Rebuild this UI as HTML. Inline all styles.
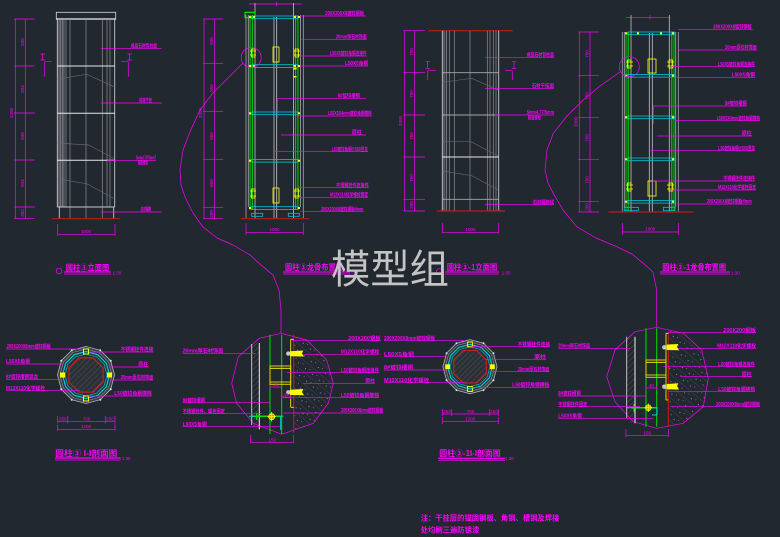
<!DOCTYPE html>
<html><head><meta charset="utf-8"><style>
html,body{margin:0;padding:0;background:#212830;}
svg{display:block}
.m{stroke:#ff00ff;stroke-width:.7;fill:none}
.t{fill:#ff00ff;font-family:"Liberation Sans","Noto Sans CJK SC",sans-serif;font-size:5px;font-weight:bold}
.d{fill:#ff00ff;font-family:"Liberation Sans",sans-serif;font-size:4.5px}
.tt{fill:#ff00ff;font-family:"Liberation Sans","Noto Sans CJK SC",sans-serif;font-size:8px;font-weight:bold}
.g{stroke:#8e9092;stroke-width:.7;fill:none}
.g2{stroke:#62666a;stroke-width:.7;fill:none}
.w{stroke:#e8e8e8;stroke-width:1;fill:none}
.c{stroke:#00c8d8;stroke-width:.8;fill:none}
.gr{stroke:#00e000;stroke-width:.8;fill:none}
.y{stroke:#ffff00;stroke-width:.8;fill:none}
.r{stroke:#c01818;stroke-width:1.2;fill:none}
</style></head><body>
<svg width="780" height="537" viewBox="0 0 780 537" xmlns="http://www.w3.org/2000/svg">
<defs>
<pattern id="hat" width="4" height="4" patternUnits="userSpaceOnUse" patternTransform="rotate(45)"><line x1="0" y1="0" x2="0" y2="4" stroke="#6a6d70" stroke-width=".6"/></pattern>
<pattern id="conc" width="9" height="9" patternUnits="userSpaceOnUse" patternTransform="rotate(-50)"><line x1="0" y1="0" x2="0" y2="9" stroke="#55595d" stroke-width=".6"/><circle cx="4" cy="3" r=".6" fill="#8a8a8a"/><circle cx="6" cy="7" r=".5" fill="#8a8a8a"/></pattern>
<g id="sec">
<polygon points="28.5,0 24.7,14.25 14.25,24.7 0,28.5 -14.25,24.7 -24.7,14.25 -28.5,0 -24.7,-14.25 -14.25,-24.7 0,-28.5 14.25,-24.7 24.7,-14.25" stroke="#b8b8b8" stroke-width=".8" fill="#3a3f45"/>
<polygon points="26,0 22.5,13 13,22.5 0,26 -13,22.5 -22.5,13 -26,0 -22.5,-13 -13,-22.5 0,-26 13,-22.5 22.5,-13" stroke="#9a9a9a" stroke-width=".6" fill="#2c3238"/>
<polygon points="23.5,0 20.35,11.75 11.75,20.35 0,23.5 -11.75,20.35 -20.35,11.75 -23.5,0 -20.35,-11.75 -11.75,-20.35 0,-23.5 11.75,-20.35 20.35,-11.75" stroke="#00d0d8" stroke-width="1.2" fill="none"/>
<polygon points="21,0 18.2,10.5 10.5,18.2 0,21 -10.5,18.2 -18.2,10.5 -21,0 -18.2,-10.5 -10.5,-18.2 0,-21 10.5,-18.2 18.2,-10.5" stroke="#00b0c0" stroke-width=".8" fill="#2a3036"/>
<polygon points="17.1,7.1 7.1,17.1 -7.1,17.1 -17.1,7.1 -17.1,-7.1 -7.1,-17.1 7.1,-17.1 17.1,-7.1" stroke="#e02020" stroke-width="1" fill="url(#hat)"/>
<rect x="-2.5" y="-26" width="5" height="5" fill="none" stroke="#ffff00" stroke-width="1"/>
<rect x="-2.5" y="21" width="5" height="5" fill="none" stroke="#ffff00" stroke-width="1"/>
<rect x="-26" y="-2.5" width="5" height="5" fill="#ffff00"/>
<rect x="21" y="-2.5" width="5" height="5" fill="#ffff00"/>
<g fill="#d0f0f0"><circle cx="24.7" cy="14.25" r="1"/><circle cx="-24.7" cy="14.25" r="1"/><circle cx="24.7" cy="-14.25" r="1"/><circle cx="-24.7" cy="-14.25" r="1"/><circle cx="14.25" cy="24.7" r="1"/><circle cx="-14.25" cy="24.7" r="1"/><circle cx="14.25" cy="-24.7" r="1"/><circle cx="-14.25" cy="-24.7" r="1"/></g>
</g>
<clipPath id="cp1"><polygon points="281,333.3 306.7,340 326.7,360 333.3,383.3 328.3,403.3 313.3,423.3 281.7,434.3 253.3,423.3 236.7,403.3 231.7,383.3 238.3,356.7 259.3,338.3"/></clipPath>
<clipPath id="cp2"><polygon points="656.7,327.3 683.3,333.3 701.7,350 708.3,378.3 703.3,406.7 683.3,423.3 656.7,428.3 633.3,421.7 615,401.7 606.7,376.7 615,350 635,331.7"/></clipPath>
</defs>
<rect width="780" height="537" fill="#212830"/>

<!-- ===== Drawing 1: elevation ===== -->
<g>
<path class="m" d="M15.3 19V218.7M25.3 19V218.7M14 19H34.7M14 66H34.7M14 113H34.7M14 160H34.7M14 207H34.7M14 218.7H34.7"/>
<text class="d" transform="rotate(-90 13 113)" x="13" y="113" text-anchor="middle">3300</text>
<text class="d" transform="rotate(-90 24 42)" x="24" y="42" text-anchor="middle">836</text>
<text class="d" transform="rotate(-90 24 89)" x="24" y="89" text-anchor="middle">834</text>
<text class="d" transform="rotate(-90 24 136)" x="24" y="136" text-anchor="middle">836</text>
<text class="d" transform="rotate(-90 24 183)" x="24" y="183" text-anchor="middle">834</text>
<text class="d" transform="rotate(-90 24 213)" x="24" y="213" text-anchor="middle">300</text>
<rect x="57.3" y="19" width="7" height="188" fill="#3b4047"/>
<rect x="56.3" y="12.3" width="59.4" height="6.7" stroke="#d8d8d8" stroke-width=".8" fill="none"/>
<path d="M56 19H116" stroke="#f0f0f0" stroke-width="1.2"/>
<path class="g" d="M59 19V207M60.7 19V207M62.3 19V207M64 19V207M66 19V207M70 19V218.7M86 19V218.7M102.3 19V218.7M107 19V207M110 19V207"/>
<path d="M57.3 19V207M114.7 19V207" stroke="#c8c8c8" stroke-width=".9"/>
<path class="w" d="M57.3 66H114.7M57.3 113.3H114.7M57.3 160.3H114.7"/>
<path d="M57.3 207H114.7M59.3 207V218.7M113.7 207V218.7" stroke="#c8c8c8" stroke-width=".9" fill="none"/>
<path class="g2" d="M57.3 79L86.7 74.3L114.7 87M57.3 143L73 144L88.7 145L114.7 159M57.3 179L86.7 183.7L114.7 199"/>
<path class="r" d="M51.7 218.7H120"/>
<path class="m" d="M40.5 54H45M42.7 54V60M40.5 60H45M44.7 61.7H51.7M44.7 61.7V76.7M127.5 54H132M129.7 54V60M127.5 60H132M121 61.7H128.3M128.3 61.7V76.7"/>
<path class="m" d="M100.7 48.3H161.7M100.7 103H161.7M107 160.3H156M100.7 212H161.7"/>
<text class="t" x="130.7" y="47.5" textLength="26.3" lengthAdjust="spacingAndGlyphs">成品石材包柱面</text>
<text class="t" x="139" y="102.2" textLength="13" lengthAdjust="spacingAndGlyphs">石材干挂</text>
<text class="t" x="136" y="159.5" textLength="20" lengthAdjust="spacingAndGlyphs">5mm4.77/5mm7</text>
<text class="t" x="138" y="164.5" textLength="10" lengthAdjust="spacingAndGlyphs">膨胀螺栓</text>
<text class="t" x="140.7" y="211.2" textLength="10.5" lengthAdjust="spacingAndGlyphs">石材踢脚</text>
<path class="m" d="M57.7 234.3H115M57.7 224V235.7M115 224V235.7"/>
<text class="d" x="86" y="233" text-anchor="middle">1000</text>
<circle cx="59" cy="271" r="2.8" class="m"/>
<text class="tt" x="65.7" y="270.5" textLength="43.6" lengthAdjust="spacingAndGlyphs">圆柱③立面图</text>
<path d="M64 272H111" stroke="#ff00ff" stroke-width="1.1"/><path class="m" d="M64 274H111"/>
<text class="d" x="112.5" y="274.5" font-size="3.5">1:30</text>
</g>

<!-- ===== Drawing 2: framing ===== -->
<g>
<path class="m" d="M204 19V218.7M214.7 19V218.7M203 19H223.3M203 63.7H223.3M203 111.7H223.3M203 159.7H223.3M203 207.3H223.3M203 218.7H223.3"/>
<text class="d" transform="rotate(-90 202 113)" x="202" y="113" text-anchor="middle">3300</text>
<text class="d" transform="rotate(-90 213 41)" x="213" y="41" text-anchor="middle">836</text>
<text class="d" transform="rotate(-90 213 88)" x="213" y="88" text-anchor="middle">850</text>
<text class="d" transform="rotate(-90 213 136)" x="213" y="136" text-anchor="middle">850</text>
<text class="d" transform="rotate(-90 213 183)" x="213" y="183" text-anchor="middle">850</text>
<text class="d" transform="rotate(-90 213 214)" x="213" y="214" text-anchor="middle">200</text>
<path class="m" d="M249 4H301.7M276.7 1.5V6.5"/>
<path d="M246 15V218M248.3 15V207M300.5 15V207M303.3 15V218" stroke="#a8a8a8" stroke-width=".8" fill="none"/>
<path d="M255 3V218M293.5 3V218M274 17V218M276.7 17V218" stroke="#c4c4c4" stroke-width=".8" fill="none"/>
<path class="gr" d="M250 15V210M252.5 15V210M295.5 15V210M298 15V210"/>
<path d="M251 15V210M297 15V210" stroke="#008800" stroke-width=".6"/>
<rect x="245" y="12.3" width="10" height="5.4" fill="none" stroke="#00ff00" stroke-width="1"/>
<g class="c">
<rect x="251.7" y="16" width="46" height="2.7"/><rect x="251.7" y="64.7" width="46" height="2.7"/><rect x="251.7" y="112" width="46" height="2.7"/><rect x="251.7" y="159.4" width="46" height="2.7"/><rect x="251.7" y="206.7" width="46" height="2.7"/>
<rect x="251.7" y="213.3" width="11" height="3"/><rect x="288.3" y="213.3" width="11" height="3"/>
</g>
<g fill="#ffff00">
<rect x="249" y="16" width="2" height="2"/><rect x="253" y="16" width="2" height="2"/><rect x="294" y="16" width="2" height="2"/><rect x="298" y="16" width="2" height="2"/>
<rect x="249" y="65" width="2" height="2"/><rect x="253" y="65" width="2" height="2"/><rect x="294" y="65" width="2" height="2"/><rect x="298" y="65" width="2" height="2"/>
<rect x="249" y="112.3" width="2" height="2"/><rect x="298" y="112.3" width="2" height="2"/><rect x="249" y="159.7" width="2" height="2"/><rect x="298" y="159.7" width="2" height="2"/>
<rect x="249" y="207" width="2" height="2"/><rect x="298" y="207" width="2" height="2"/>
<rect x="293.5" y="68" width="3" height="1.5"/><rect x="293.5" y="76" width="3" height="1.5"/>
</g>
<g class="y">
<rect x="251.5" y="49" width="3.5" height="8"/><rect x="273" y="47" width="6" height="15"/><rect x="295" y="49" width="3.5" height="8"/>
<rect x="251.5" y="189" width="3.5" height="9"/><rect x="273" y="188" width="6" height="15"/><rect x="295" y="189" width="3.5" height="9"/>
<path d="M250 51H256M250 55H256M294 51H300M294 55H300M250 191H256M250 196H256M294 191H300M294 196H300"/>
</g>
<path class="r" d="M240.7 218.7H309"/>
<path class="m" d="M246 232.7H303.3M246 223V235M303.3 223V235"/>
<text class="d" x="274.5" y="231" text-anchor="middle">1000</text>
<path class="m" d="M300 16H365.7M301.7 39.3H366.7M299 56H366.7M300 66H368M277.3 118.3V98.3H366M297 116H371.7M281 135H366M275 151.7H368M298 187.7H369M298 197.3H368.3M300 211.7H364"/>
<text class="t" x="325.3" y="15.2" textLength="38.7" lengthAdjust="spacingAndGlyphs">200X200X8镀锌钢板</text>
<text class="t" x="336" y="38.5" textLength="30.7" lengthAdjust="spacingAndGlyphs">20mm厚石材饰面</text>
<text class="t" x="330" y="55.2" textLength="36.7" lengthAdjust="spacingAndGlyphs">L50X5镀锌角钢连接件</text>
<text class="t" x="345" y="65.2" textLength="23" lengthAdjust="spacingAndGlyphs">L50X5角钢</text>
<text class="t" x="337.7" y="97.5" textLength="22.3" lengthAdjust="spacingAndGlyphs">8#镀锌槽钢</text>
<text class="t" x="328" y="115.2" textLength="43.7" lengthAdjust="spacingAndGlyphs">L50X5X4mm镀锌角钢横档</text>
<text class="t" x="352" y="134.2" textLength="9.7" lengthAdjust="spacingAndGlyphs">原柱</text>
<text class="t" x="331.7" y="150.9" textLength="36" lengthAdjust="spacingAndGlyphs">L50镀锌角钢@500竖龙</text>
<text class="t" x="336" y="186.9" textLength="32.7" lengthAdjust="spacingAndGlyphs">不锈钢挂件连接件</text>
<text class="t" x="330" y="196.5" textLength="38.3" lengthAdjust="spacingAndGlyphs">M12X110化学螺栓固定</text>
<text class="t" x="321" y="210.9" textLength="42.3" lengthAdjust="spacingAndGlyphs">200X200X8镀锌钢板4mm</text>
<circle cx="251.2" cy="57.5" r="10" class="m"/>
<polyline class="m" stroke-linejoin="round" points="243,63 230,76 213,93 200,110 190,131.7 183,150 180,170 181,185 185,197 193,213 203,227 217,238 233,245 250,255 263,266.7 273,275 279,290 281,310 281,333"/>
<text class="tt" x="285" y="270" textLength="58" lengthAdjust="spacingAndGlyphs">圆柱③龙骨布置图</text>
<path d="M283 272H350" stroke="#ff00ff" stroke-width="1.1"/><path class="m" d="M283 274H350"/>
<text class="d" x="348.5" y="274.5" font-size="3.5">1:30</text>
</g>

<!-- ===== Drawing 3: elevation 3-1 ===== -->
<g>
<path class="r" d="M428.3 30.7H512.7"/>
<path class="m" d="M404.7 30.7V211M414.7 30.7V211M403.3 30.7H425M403.3 72.7H425M403.3 115H425M403.3 157H425M403.3 199.3H425M403.3 211H425"/>
<text class="d" transform="rotate(-90 402 121)" x="402" y="121" text-anchor="middle">3300</text>
<text class="d" transform="rotate(-90 413 52)" x="413" y="52" text-anchor="middle">750</text>
<text class="d" transform="rotate(-90 413 94)" x="413" y="94" text-anchor="middle">750</text>
<text class="d" transform="rotate(-90 413 136)" x="413" y="136" text-anchor="middle">750</text>
<text class="d" transform="rotate(-90 413 178)" x="413" y="178" text-anchor="middle">750</text>
<text class="d" transform="rotate(-90 413 205)" x="413" y="205" text-anchor="middle">200</text>
<rect x="442.3" y="30.7" width="4.4" height="180.3" fill="#363b42"/>
<path class="g" d="M444 30.7V211M446.7 30.7V211M449.3 30.7V211M454.3 30.7V211M470 30.7V211M487.3 30.7V211M490 30.7V211M493.3 30.7V211M496 30.7V211"/>
<path d="M442.3 30.7V211M498.7 30.7V211" stroke="#c8c8c8" stroke-width=".9"/>
<path d="M442.3 72.7H498.7M442.3 115H498.7M442.3 199.3H498.7" stroke="#a8a8a8" stroke-width=".9"/>
<path class="w" d="M442.3 157H498.7"/>
<path class="g2" d="M442.3 82.3L471.7 78.3L498.3 90M442.3 141.7L471 141.7L498.3 156M442.3 171L471.7 175.7L498.3 190"/>
<path class="r" d="M436.7 211H505"/>
<path class="m" d="M425.5 61.7H430M427.7 61.7V68.3M425.5 68.3H430M427.7 70.7H435.7M427.7 70.7V80M511.8 61.7H516.3M514 61.7V68.3M511.8 68.3H516.3M505 70.7H512.3M512.3 70.7V80"/>
<path class="m" d="M485 57.3H554M485 88.3H554M495 115H554M485 204.7H554"/>
<text class="t" x="526.7" y="56.5" textLength="27.3" lengthAdjust="spacingAndGlyphs">成品石材包柱面</text>
<text class="t" x="531.7" y="87.5" textLength="22.3" lengthAdjust="spacingAndGlyphs">石材干挂面</text>
<text class="t" x="526.7" y="114.2" textLength="27.3" lengthAdjust="spacingAndGlyphs">5mm4.77/5mm</text>
<text class="t" x="528" y="119.5" textLength="13" lengthAdjust="spacingAndGlyphs">膨胀螺栓</text>
<text class="t" x="532.7" y="203.9" textLength="21.3" lengthAdjust="spacingAndGlyphs">石材踢脚线</text>
<path class="m" d="M442.3 232.3H498.7M442.3 222.7V233.3M498.7 222.7V233.3"/>
<text class="d" x="470.5" y="231" text-anchor="middle">1000</text>
<circle cx="439.3" cy="271.5" r="2.8" class="m"/>
<text class="tt" x="446.7" y="270" textLength="50.6" lengthAdjust="spacingAndGlyphs">圆柱③-1立面图</text>
<path d="M445 272H499" stroke="#ff00ff" stroke-width="1.1"/><path class="m" d="M445 274H499"/>
<text class="d" x="501.7" y="274.5" font-size="3.5">1:30</text>
</g>

<!-- ===== Drawing 4: framing 3-1 ===== -->
<g>
<path class="m" d="M625.7 17.3H670.7M650 15V19.5"/>
<path class="m" d="M579.3 32V212M590 32V212M578.3 32H599M578.3 75.7H599M578.3 117.3H599M578.3 159.3H599M578.3 201.7H599M578.3 212H599"/>
<text class="d" transform="rotate(-90 577.5 122)" x="577.5" y="122" text-anchor="middle">3300</text>
<text class="d" transform="rotate(-90 588.5 54)" x="588.5" y="54" text-anchor="middle">750</text>
<text class="d" transform="rotate(-90 588.5 96)" x="588.5" y="96" text-anchor="middle">750</text>
<text class="d" transform="rotate(-90 588.5 138)" x="588.5" y="138" text-anchor="middle">750</text>
<text class="d" transform="rotate(-90 588.5 180)" x="588.5" y="180" text-anchor="middle">750</text>
<text class="d" transform="rotate(-90 588.5 207)" x="588.5" y="207" text-anchor="middle">200</text>
<path d="M622.3 32V212M624.3 32V207M675.7 32V207M678.3 32V212" stroke="#a8a8a8" stroke-width=".8" fill="none"/>
<path d="M631 15V212M669.3 15V212M649.3 33V212M652.3 33V212" stroke="#c4c4c4" stroke-width=".8" fill="none"/>
<path class="gr" d="M626 32V211M628.3 32V211M671.7 32V211M674 32V211"/>
<path d="M627.2 32V211M672.8 32V211" stroke="#008800" stroke-width=".6"/>
<g class="c">
<rect x="627.7" y="32" width="46.6" height="2.7"/><rect x="627.7" y="74.4" width="46.6" height="2.7"/><rect x="627.7" y="116" width="46.6" height="2.7"/><rect x="627.7" y="158" width="46.6" height="2.7"/><rect x="627.7" y="200.4" width="46.6" height="2.7"/>
<rect x="624.3" y="207.3" width="14" height="3.4"/><rect x="663.3" y="207.3" width="11.7" height="3.4"/>
</g>
<g fill="#ffff00">
<rect x="625" y="32.3" width="2" height="2"/><rect x="672" y="32.3" width="2" height="2"/><rect x="637" y="32.3" width="2" height="2"/><rect x="660" y="32.3" width="2" height="2"/>
<rect x="625" y="74.7" width="2" height="2"/><rect x="672" y="74.7" width="2" height="2"/><rect x="625" y="116.3" width="2" height="2"/><rect x="672" y="116.3" width="2" height="2"/>
<rect x="625" y="158.3" width="2" height="2"/><rect x="672" y="158.3" width="2" height="2"/><rect x="625" y="200.7" width="2" height="2"/><rect x="672" y="200.7" width="2" height="2"/>
</g>
<g class="y">
<rect x="627.5" y="60" width="3.5" height="8"/><rect x="648" y="59" width="8" height="14"/><rect x="669" y="60" width="3.5" height="8"/>
<rect x="627.5" y="183" width="3.5" height="8"/><rect x="648" y="181" width="8" height="15"/><rect x="669" y="183" width="3.5" height="8"/>
<path d="M626 62H633M626 66H633M667 62H674M667 66H674M626 185H633M626 189H633M667 185H674M667 189H674"/>
</g>
<path class="r" d="M608.3 212H693.3"/>
<path class="m" d="M622.3 232H678.3M622.3 222.7V235M678.3 222.7V235"/>
<text class="d" x="650.3" y="230.5" text-anchor="middle">1000</text>
<path class="m" d="M678 29.3H752.7M678.3 50H756.7M671.7 66.7H755M668.3 77.3H755M653.3 124V106H746.7M675 120.7H760M656.7 136H751.7M650.7 150.7H755M652.3 181H755M671 190H756M676.7 204H751.7"/>
<text class="t" x="713.3" y="28.5" textLength="38.4" lengthAdjust="spacingAndGlyphs">200X200X8镀锌钢板</text>
<text class="t" x="725" y="49.2" textLength="31.7" lengthAdjust="spacingAndGlyphs">20mm厚石材饰面</text>
<text class="t" x="718" y="65.9" textLength="37" lengthAdjust="spacingAndGlyphs">L50X5镀锌角钢连接件</text>
<text class="t" x="731.7" y="76.5" textLength="23.3" lengthAdjust="spacingAndGlyphs">L50X5角钢</text>
<text class="t" x="725" y="105.2" textLength="21.7" lengthAdjust="spacingAndGlyphs">8#镀锌槽钢</text>
<text class="t" x="716.7" y="119.9" textLength="43.3" lengthAdjust="spacingAndGlyphs">L50X5X4mm镀锌角钢横档</text>
<text class="t" x="741.7" y="135.2" textLength="10" lengthAdjust="spacingAndGlyphs">原柱</text>
<text class="t" x="718.3" y="149.9" textLength="36.7" lengthAdjust="spacingAndGlyphs">L50镀锌角钢@500竖龙</text>
<text class="t" x="723.3" y="180.2" textLength="31.7" lengthAdjust="spacingAndGlyphs">不锈钢挂件连接件</text>
<text class="t" x="718" y="189.2" textLength="38" lengthAdjust="spacingAndGlyphs">M12X110化学螺栓固定</text>
<text class="t" x="706.7" y="203.2" textLength="45" lengthAdjust="spacingAndGlyphs">200X200X8镀锌钢板4mm</text>
<circle cx="629.3" cy="66.7" r="10" class="m"/>
<polyline class="m" stroke-linejoin="round" points="620,72 600,86 583.3,100 567,116 553.3,133.3 547,150 545,170 548,183 553.3,193.3 563,210 576.7,226.7 596,238 616.7,246.7 632,254 643.3,263.3 653,272 656.7,290 656.7,310 656.7,327.3"/>
<text class="tt" x="662.3" y="270" textLength="63.7" lengthAdjust="spacingAndGlyphs">圆柱③-1龙骨布置图</text>
<path d="M660 272H730" stroke="#ff00ff" stroke-width="1.1"/><path class="m" d="M660 274H730"/>
<text class="d" x="731" y="274.5" font-size="3.5">1:30</text>
</g>

<!-- ===== Section I-I ===== -->
<use href="#sec" x="86" y="375"/>
<path class="m" d="M6 349H81.7M6 364H61.7M6 379.3H62M6 390.7H80M90 352H153.3M110 367H148.3M110 380H153.3M88 396H151.7"/>
<text class="t" x="6.7" y="348.2" textLength="44" lengthAdjust="spacingAndGlyphs">200X200X8mm镀锌钢板</text>
<text class="t" x="6" y="363.2" textLength="24" lengthAdjust="spacingAndGlyphs">L50X5角钢</text>
<text class="t" x="6" y="378.5" textLength="32" lengthAdjust="spacingAndGlyphs">8#镀锌槽钢竖龙</text>
<text class="t" x="6" y="389.9" textLength="39" lengthAdjust="spacingAndGlyphs">M12X110化学螺栓</text>
<text class="t" x="120.7" y="351.2" textLength="32.6" lengthAdjust="spacingAndGlyphs">不锈钢挂件连接</text>
<text class="t" x="138.3" y="366.2" textLength="10" lengthAdjust="spacingAndGlyphs">原柱</text>
<text class="t" x="120.7" y="379.2" textLength="32.6" lengthAdjust="spacingAndGlyphs">20mm厚石材饰面</text>
<text class="t" x="114.3" y="395.2" textLength="37.4" lengthAdjust="spacingAndGlyphs">L50镀锌角钢横档</text>
<path class="m" d="M57.7 421.7H115M57.7 416V423.5M67.7 416V423.5M105.3 416V423.5M115 416V423.5M57.7 429.3H115M57.7 424.5V431M115 424.5V431"/>
<text class="d" x="62.7" y="420.5" text-anchor="middle" font-size="3.8">250</text>
<text class="d" x="86.5" y="420.5" text-anchor="middle" font-size="3.8">700</text>
<text class="d" x="110" y="420.5" text-anchor="middle" font-size="3.8">250</text>
<text class="d" x="86" y="428.2" text-anchor="middle" font-size="3.8">1200</text>
<text class="tt" x="55.3" y="456" font-size="10" textLength="62" lengthAdjust="spacingAndGlyphs">圆柱③ I-I剖面图</text>
<path d="M55 458H120.7" stroke="#ff00ff" stroke-width="1.2"/><path class="m" d="M55 460H120.7"/>
<text class="d" x="121.7" y="460" font-size="3.5">1:30</text>

<!-- ===== Detail 1 ===== -->
<g>
<rect x="293.7" y="330" width="45" height="110" fill="url(#conc)" clip-path="url(#cp1)"/>
<rect x="251.7" y="343" width="7.6" height="87" fill="url(#hat)"/>
<polygon class="m" points="281,333.3 306.7,340 326.7,360 333.3,383.3 328.3,403.3 313.3,423.3 281.7,434.3 253.3,423.3 236.7,403.3 231.7,383.3 238.3,356.7 259.3,338.3"/>
<path d="M251.7 344V425" stroke="#d0d0d0" stroke-width=".9"/>
<path d="M259.3 343V429.3" stroke="#f0f0f0" stroke-width="1"/>
<path d="M270 334.7V434M281.7 334.7V434" stroke="#00e000" stroke-width="1"/>
<path d="M293.7 334.7V433.3" stroke="#d01818" stroke-width="1"/>
<path class="y" d="M290.7 339.3V407.3M290.7 339.3H293.7M290.7 407.3H293.7"/>
<rect x="270" y="366" width="20.7" height="18.3" fill="none" stroke="#e0d000" stroke-width="1"/>
<path class="y" d="M270 368.3H290.7M270 382H290.7"/>
<polygon points="290,351.2 303.3,350.5 302,353.5 304,356.5 290,356.3" fill="#ffff00"/>
<circle cx="288.3" cy="353.6" r="2.2" fill="#c8c8c8"/>
<polygon points="290,389.8 303.3,389 302,392 304,395.3 290,395" fill="#ffff00"/>
<circle cx="288.3" cy="392.3" r="2.2" fill="#c8c8c8"/>
<path d="M251.7 416.3H283.3" stroke="#00e000" stroke-width="1.5"/>
<path d="M256.7 412.7V420" stroke="#00e000" stroke-width="1.3"/>
<path d="M249 416.3H255M280.7 416V430" stroke="#00d0d8" stroke-width="1"/>
<circle cx="271.7" cy="416.7" r="3" fill="#b0a020" stroke="#ffff00" stroke-width=".8"/>
<path class="y" d="M271.7 412V421.5M267.5 416.7H276"/>
<path class="m" d="M270 387H281.7M281.7 397H290.7M270 385V389M281.7 385V399M290.7 395V399"/>
<text class="d" x="275.8" y="386" text-anchor="middle" font-size="3.5">20</text>
<text class="d" x="286" y="396" text-anchor="middle" font-size="3.5">40</text>
<path class="m" d="M182.7 353.3H256M182.7 402.7H270M182.7 413.7H262M182.7 426.7H280M291.7 340.7H380.7M303.3 354.3H379.3M286.7 372.7H379M303 383.3H375M283.3 397.7H379M283.3 413H383.3"/>
<text class="t" x="182.7" y="352.5" textLength="40.6" lengthAdjust="spacingAndGlyphs">20mm厚石材饰面</text>
<text class="t" x="182.7" y="401.9" textLength="22.3" lengthAdjust="spacingAndGlyphs">8#镀锌槽钢</text>
<text class="t" x="182.7" y="412.9" textLength="42.3" lengthAdjust="spacingAndGlyphs">不锈钢挂件、螺栓固定</text>
<text class="t" x="182.7" y="425.9" textLength="24" lengthAdjust="spacingAndGlyphs">L50X5角钢</text>
<text class="t" x="348.3" y="339.9" textLength="32.4" lengthAdjust="spacingAndGlyphs">200X200钢板</text>
<text class="t" x="341" y="353.5" textLength="38.3" lengthAdjust="spacingAndGlyphs">M12X110化学螺栓</text>
<text class="t" x="341" y="371.9" textLength="38" lengthAdjust="spacingAndGlyphs">L50镀锌角钢连接件</text>
<text class="t" x="365.3" y="382.5" textLength="9.7" lengthAdjust="spacingAndGlyphs">原柱</text>
<text class="t" x="341" y="396.9" textLength="38" lengthAdjust="spacingAndGlyphs">L50镀锌角钢横档</text>
<text class="t" x="341" y="412.2" textLength="42.3" lengthAdjust="spacingAndGlyphs">200X200X8mm镀锌钢板</text>
<path class="m" d="M250.7 442.7H293.7M250.7 435V443.3M293.7 435V443.3"/>
<text class="d" x="272.2" y="441.3" text-anchor="middle" font-size="3.8">150</text>
</g>

<!-- ===== Section 3-1 I-I ===== -->
<g transform="translate(470 366.7) scale(0.95)"><use href="#sec"/></g>
<path class="m" d="M384 340.7H465M384 356.7H445M384 370H448M384 382.7H465M471.7 346.7H550M485 359.3H546M490 371.7H549.3M470 387.3H549.3"/>
<text class="t" x="384" y="339.9" textLength="51" lengthAdjust="spacingAndGlyphs">200X200X8mm镀锌钢板</text>
<text class="t" x="384" y="355.9" textLength="30" lengthAdjust="spacingAndGlyphs">L50X5角钢</text>
<text class="t" x="384" y="369.2" textLength="29" lengthAdjust="spacingAndGlyphs">8#镀锌槽钢</text>
<text class="t" x="384" y="381.9" textLength="45.3" lengthAdjust="spacingAndGlyphs">M12X110化学螺栓</text>
<text class="t" x="517.7" y="345.9" textLength="32.3" lengthAdjust="spacingAndGlyphs">不锈钢挂件连接</text>
<text class="t" x="534.3" y="358.5" textLength="11.7" lengthAdjust="spacingAndGlyphs">原柱</text>
<text class="t" x="517.7" y="370.9" textLength="31.6" lengthAdjust="spacingAndGlyphs">20mm厚石材饰面</text>
<text class="t" x="512.3" y="386.5" textLength="37" lengthAdjust="spacingAndGlyphs">L50镀锌角钢横档</text>
<path class="m" d="M442.3 414H498.3M442.3 409V416M451.7 409V416M489.3 409V416M498.3 409V416M442.3 421.7H498.3M442.3 417V424M498.3 417V424"/>
<text class="d" x="447" y="413" text-anchor="middle" font-size="3.8">250</text>
<text class="d" x="470.5" y="413" text-anchor="middle" font-size="3.8">700</text>
<text class="d" x="494" y="413" text-anchor="middle" font-size="3.8">250</text>
<text class="d" x="470.3" y="420.6" text-anchor="middle" font-size="3.8">1200</text>
<text class="tt" x="439.3" y="456" font-size="10" textLength="61.4" lengthAdjust="spacingAndGlyphs">圆柱③-1I-I剖面图</text>
<path d="M438 458.3H505" stroke="#ff00ff" stroke-width="1.2"/><path class="m" d="M438 460.3H505"/>
<text class="d" x="505" y="460" font-size="3.5">1:30</text>

<!-- ===== Detail 2 ===== -->
<g>
<rect x="668.3" y="325" width="45" height="110" fill="url(#conc)" clip-path="url(#cp2)"/>
<rect x="626.7" y="336.7" width="8.3" height="86" fill="url(#hat)"/>
<polygon class="m" points="656.7,327.3 683.3,333.3 701.7,350 708.3,378.3 703.3,406.7 683.3,423.3 656.7,428.3 633.3,421.7 615,401.7 606.7,376.7 615,350 635,331.7"/>
<path d="M626.7 336.7V418.3" stroke="#d0d0d0" stroke-width=".9"/>
<path d="M635 336.7V423.3" stroke="#f0f0f0" stroke-width="1"/>
<path d="M646 328.3V426.7M656.7 328.3V426.7" stroke="#00e000" stroke-width="1"/>
<path d="M668.3 331.7V426.7" stroke="#d01818" stroke-width="1"/>
<path class="y" d="M666 333.3V400M666 333.3H668.3M666 400H668.3"/>
<rect x="646" y="360" width="20" height="17.3" fill="none" stroke="#e0d000" stroke-width="1"/>
<path class="y" d="M646 362.3H666M646 375H666"/>
<polygon points="666.7,344.6 678.3,344 677,347 679,350.3 666.7,350" fill="#ffff00"/>
<circle cx="664.3" cy="347.3" r="2.2" fill="#c8c8c8"/>
<polygon points="666.7,384 678.3,383.3 677,386.3 679,389.6 666.7,389.3" fill="#ffff00"/>
<circle cx="664.3" cy="386.7" r="2.2" fill="#c8c8c8"/>
<path d="M631.7 407.7H656.7" stroke="#00e000" stroke-width="1.5"/>
<path d="M634 404V412" stroke="#00e000" stroke-width="1.2"/>
<path d="M627 407.7H632M657 407V415M652 415H657" stroke="#00d0d8" stroke-width="1"/>
<circle cx="648.3" cy="407.7" r="2.8" fill="#b0a020" stroke="#ffff00" stroke-width=".8"/>
<path class="y" d="M648.3 403.5V412M644.5 407.7H652"/>
<path class="m" d="M646 388H656.7M646 386V390M656.7 386V390"/>
<text class="d" x="651.3" y="387" text-anchor="middle" font-size="3.5">40</text>
<path class="m" d="M558.3 348.3H630M558.3 396H646.7M558.3 406.7H640M558.3 418.3H653.3M668.3 332.7H756M678 348.3H756M663.3 366.7H755M680 376.7H751.7M668 391.7H755M670 406.7H760"/>
<text class="t" x="558.3" y="347.5" textLength="31.7" lengthAdjust="spacingAndGlyphs">20mm厚石材饰面</text>
<text class="t" x="558.3" y="395.2" textLength="22.4" lengthAdjust="spacingAndGlyphs">8#镀锌槽钢</text>
<text class="t" x="558.3" y="405.9" textLength="29" lengthAdjust="spacingAndGlyphs">不锈钢挂件固定</text>
<text class="t" x="558.3" y="417.5" textLength="23.4" lengthAdjust="spacingAndGlyphs">L50X5角钢</text>
<text class="t" x="723.3" y="331.9" textLength="32.7" lengthAdjust="spacingAndGlyphs">200X200钢板</text>
<text class="t" x="717.3" y="347.5" textLength="38.7" lengthAdjust="spacingAndGlyphs">M12X110化学螺栓</text>
<text class="t" x="718.3" y="365.9" textLength="36.7" lengthAdjust="spacingAndGlyphs">L50镀锌角钢连接件</text>
<text class="t" x="741.7" y="375.9" textLength="10" lengthAdjust="spacingAndGlyphs">原柱</text>
<text class="t" x="718.3" y="390.9" textLength="36.7" lengthAdjust="spacingAndGlyphs">L50镀锌角钢横档</text>
<text class="t" x="716" y="405.9" textLength="44" lengthAdjust="spacingAndGlyphs">200X200X8mm镀锌钢板</text>
<path class="m" d="M626 435.7H668.3M626 429V437M668.3 429V437"/>
<text class="d" x="647.2" y="434.4" text-anchor="middle" font-size="3.8">150</text>
</g>

<!-- watermark -->
<text x="331" y="283" fill="#c4c4c4" font-family="'Noto Sans CJK SC','WenQuanYi Zen Hei',sans-serif" font-size="40" textLength="118" lengthAdjust="spacingAndGlyphs">模型组</text>

<!-- note -->
<text x="420.7" y="520.5" fill="#ff00ff" font-family="'Liberation Sans','Noto Sans CJK SC',sans-serif" font-size="7.3" font-weight="bold" textLength="138.6" lengthAdjust="spacingAndGlyphs">注：干挂层的锚固钢板、角钢、槽钢及焊接</text>
<text x="420.7" y="532.5" fill="#ff00ff" font-family="'Liberation Sans','Noto Sans CJK SC',sans-serif" font-size="7.3" font-weight="bold" textLength="58.6" lengthAdjust="spacingAndGlyphs">处均刷三遍防锈漆</text>
</svg>
</body></html>
